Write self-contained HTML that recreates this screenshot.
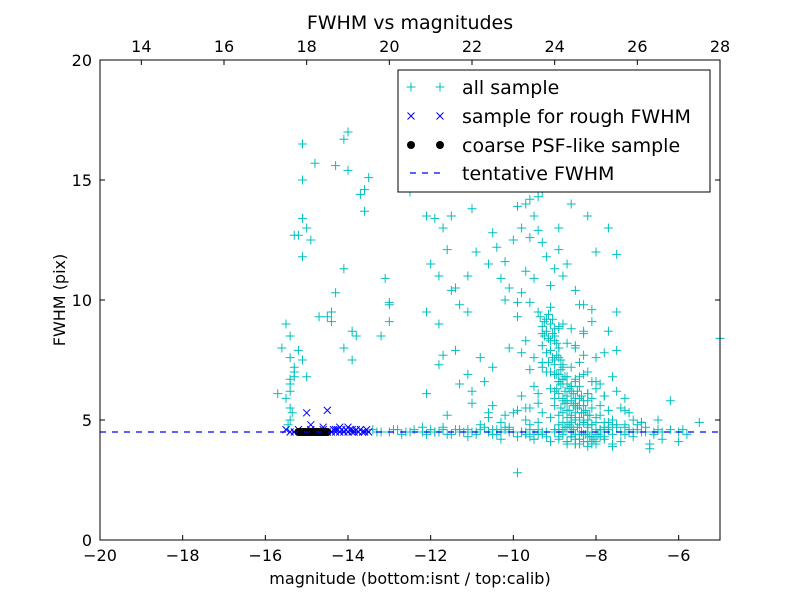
<!DOCTYPE html>
<html><head><meta charset="utf-8"><style>
body{margin:0;background:#fff}
svg{display:block;font-family:"DejaVu Sans","Liberation Sans",sans-serif}
</style></head><body>
<svg id="chart" width="800" height="600" viewBox="0 0 800 600" xmlns="http://www.w3.org/2000/svg">
<rect x="0" y="0" width="800" height="600" fill="#fff"/>
<text x="410" y="29" font-size="19" text-anchor="middle">FWHM vs magnitudes</text>
<text x="410" y="584" font-size="16" text-anchor="middle">magnitude (bottom:isnt / top:calib)</text>
<text x="65" y="300" font-size="16" text-anchor="middle" transform="rotate(-90 65 300)">FWHM (pix)</text>
<g id="marks"></g>
<g id="axes"></g>
<g id="legend">
<rect x="398" y="70" width="312" height="122" fill="#fff" stroke="#000" stroke-width="1"/>
</g>
</svg>
<script>
const xTicks=[-20,-18,-16,-14,-12,-10,-8,-6];
const topTicks=[14,16,18,20,22,24,26,28];
const yTicks=[0,5,10,15,20];
const fwhmLine=4.5;
const allX=[-15.1,-14.8,-15.1,-14.3,-14.1,-14.0,-14.0,-13.5,-13.6,-13.7,-13.6,-15.1,-15.0,-14.9,-15.3,-15.2,-15.1,-14.1,-14.3,-13.1,-13.0,-13.0,-14.4,-14.5,-14.7,-14.4,-13.9,-13.8,-13.0,-13.2,-14.1,-13.9,-15.6,-15.5,-15.4,-15.4,-15.3,-15.3,-15.4,-15.4,-15.5,-15.4,-15.4,-15.7,-15.2,-15.1,-15.3,-15.0,-15.4,-15.35,-15.45,
-12.5,-12.1,-11.9,-11.7,-11.5,-11.6,-11.5,-11.4,-11.8,-12.0,-11.8,-12.1,-11.3,-11.1,-11.1,-11.0,-10.9,-10.5,-10.6,-10.4,-10.2,-10.3,-11.7,-11.8,-12.1,-11.4,-11.3,-11.1,-11.0,-10.8,-10.7,-10.5,-10.5,-11.6,-11.0,-10.6,-9.9,
-9.9,-9.7,-9.6,-9.4,-9.3,-9.5,-9.8,-10.0,-9.6,-9.4,-9.3,-8.9,-8.6,-8.9,-8.2,-7.7,-8.0,-7.5,-8.7,-8.8,-9.2,-9.0,-9.7,-9.5,-10.1,-10.2,-9.8,-9.1,-8.5,-8.4,-8.1,-9.6,-9.4,-9.9,-9.2,-8.8,-8.6,-8.3,-8.9,-9.0,-9.3,-9.7,-10.1,-9.8,-9.5,
-9.1,-8.9,-8.7,-8.5,-8.3,-8.0,-7.8,-9.3,-9.0,-8.8,-8.6,-8.4,-8.2,-9.6,-9.2,-8.9,-8.7,-8.5,-8.3,-8.1,-7.9,-7.6,-9.5,-9.1,-8.9,-8.8,-8.6,-8.4,-8.2,-8.0,-7.8,-7.5,-7.3,-9.8,-9.4,-9.0,-8.8,-8.7,-8.5,-8.4,-8.3,-8.1,-7.9,-7.7,-7.4,-7.2,
-9.9,-9.6,-9.3,-9.0,-8.9,-8.7,-8.6,-8.5,-8.3,-8.2,-8.0,-7.8,-7.6,-7.3,-7.1,-6.9,-10.2,-9.7,-9.4,-9.1,-8.9,-8.8,-8.6,-8.5,-8.4,-8.3,-8.2,-8.1,-7.9,-7.7,-7.5,-7.2,-7.0,-6.8,-6.6,
-9.5,-9.2,-8.9,-8.8,-8.7,-8.6,-8.5,-8.4,-8.3,-8.2,-8.1,-8.0,-7.8,-7.6,-7.4,-7.1,-6.7,-6.4,-9.0,-8.7,-8.5,-8.3,-8.1,-7.9,-7.6,-7.3,-6.9,-6.5,-6.2,-5.9,-5.5,-5.0,-6.7,-6.0,
-9.3,-9.0,-8.8,-8.6,-8.4,-8.2,-8.0,-7.8,-8.9,-8.5,-8.3,-8.1,-7.7,-7.5,-10.4,-10.1,-9.8,-9.6,-10.6,-10.3,-10.0,-9.7,-9.4,
-13.4,-13.2,-13.0,-12.8,-12.6,-12.4,-12.2,-12.0,-11.8,-11.6,-11.4,-11.2,-11.0,-10.8,-10.6,-10.4,-10.2,-10.0,-9.8,-9.6,-9.4,-9.2,-9.0,-8.8,-8.6,-8.4,-8.2,-8.0,-7.8,-7.6,-7.4,-7.2,-7.0,-6.8,-6.6,-6.4,-6.2,-6.0,-5.8,
-13.3,-12.9,-12.5,-12.1,-11.7,-11.3,-10.9,-10.5,-10.1,-9.7,-9.3,-8.9,-8.5,-8.1,-7.7,-7.3,-6.9,-6.5,-12.7,-11.9,-11.1,-10.3,-9.5,-8.7,-7.9,-7.1,-12.2,-9.9,-9.1,-8.3,-7.5,
-9.35,-9.25,-9.15,-9.05,-9.3,-9.2,-9.1,-9.0,-9.25,-9.15,-9.05,-8.95,-9.3,-9.1,-9.0,-8.9,-9.2,-9.05,-8.95,-8.85,-9.15,-9.0,-8.9,-8.8,-9.1,-8.95,-8.85,-8.75,
-9.0,-8.9,-8.8,-8.7,-8.6,-8.5,-8.95,-8.85,-8.75,-8.65,-8.55,-8.45,-8.35,-8.9,-8.8,-8.7,-8.6,-8.5,-8.4,-8.3,-8.2,-8.85,-8.75,-8.65,-8.55,-8.45,-8.35,-8.25,-8.15,-8.8,-8.7,-8.6,-8.5,-8.4,-8.3,-8.2,-8.1,-8.0,-8.75,-8.65,-8.55,-8.45,-8.35,-8.25,-8.15,-8.05,-7.95,-8.7,-8.6,-8.5,-8.4,-8.3,-8.2,-8.1,-8.0,-7.9,-7.8,
-11.9,-11.7,-11.5,-11.3,-11.1,-10.9,-10.7,-10.5,-10.3,-10.1,-9.9,-9.7,-9.5,-9.3,-9.1,-8.9,-8.7,-8.5,-8.3,-8.1,-7.9,-7.7,-7.5,-7.3,-10.8,-10.2,-9.6,-9.0,-8.6,-8.2,-7.8,-9.4,-8.8,-8.4,-8.0,-7.6,-9.8,-9.2,-8.6];
const allY=[16.5,15.7,15.0,15.6,16.7,17.0,15.4,15.1,14.6,14.4,13.7,13.4,13.0,12.5,12.7,12.7,11.8,11.3,10.3,10.9,9.9,9.8,9.5,9.3,9.3,9.1,8.7,8.5,9.1,8.5,8.0,7.5,8.0,9.0,8.5,7.6,7.2,6.8,6.5,6.2,5.9,5.5,5.0,6.1,7.9,7.5,7.0,6.8,6.7,5.3,4.8,
14.5,13.5,13.4,13.0,13.5,12.1,10.4,10.5,11.0,11.5,9.0,9.5,9.8,9.5,11.0,13.8,12.0,12.8,11.5,12.2,11.6,10.9,7.7,7.3,6.1,7.9,6.5,6.9,6.2,7.6,6.6,7.2,5.6,5.2,5.7,5.3,2.8,
13.9,14.0,14.2,14.3,14.5,13.5,13.0,12.5,12.6,12.9,12.4,13.0,14.0,12.1,13.5,13.0,12.0,11.9,11.5,11.0,11.8,11.3,11.2,10.9,10.5,10.0,10.3,10.6,10.4,9.8,9.6,9.9,9.5,9.3,9.2,9.0,8.8,8.7,8.9,8.5,8.6,8.3,8.0,7.8,7.6,
8.3,8.0,8.2,8.1,7.7,7.6,7.8,7.4,7.5,7.3,7.2,7.4,7.0,7.1,7.0,6.9,6.8,6.7,6.9,6.6,6.5,6.8,6.4,6.3,6.6,6.5,6.2,6.4,6.1,6.3,6.0,6.2,5.9,6.0,6.1,5.9,5.8,5.7,5.9,5.6,5.8,5.5,5.6,5.4,5.5,5.3,
5.4,5.5,5.3,5.6,5.2,5.4,5.1,5.3,5.0,5.2,5.1,4.9,5.0,4.8,5.0,4.9,5.2,5.0,4.9,5.1,4.8,4.9,4.7,5.0,4.8,4.9,4.7,4.8,4.6,4.9,4.7,4.6,4.8,4.7,4.5,
4.4,4.3,4.2,4.4,4.1,4.3,4.0,4.2,4.4,4.1,4.3,4.0,4.2,3.9,4.1,4.3,4.0,4.2,6.2,5.8,5.6,5.3,5.9,5.2,4.8,5.4,4.9,5.0,5.8,4.6,4.9,8.4,3.8,4.1,
7.2,6.9,6.7,6.4,6.8,6.1,6.6,6.0,8.8,8.0,8.6,9.1,8.7,7.9,4.6,4.7,4.5,4.3,5.1,4.9,5.3,5.5,5.7,
4.6,4.5,4.5,4.6,4.5,4.6,4.5,4.6,4.5,4.4,4.6,4.5,4.5,4.6,4.5,4.4,4.6,4.5,4.5,4.6,4.4,4.5,4.5,4.6,4.5,4.4,4.5,4.6,4.5,4.4,4.5,4.5,4.6,4.5,4.4,4.5,4.6,4.5,4.4,
4.5,4.6,4.5,4.4,4.6,4.5,4.4,4.6,4.5,4.4,4.5,4.6,4.4,4.5,4.6,4.4,4.5,4.6,4.4,4.5,4.6,4.5,4.2,4.7,4.6,4.5,4.7,
9.9,9.7,9.8,9.5,9.3,9.1,9.4,9.2,8.9,8.7,9.0,8.8,8.5,8.4,8.6,8.2,8.1,7.9,8.3,8.0,7.8,7.6,7.7,7.5,7.4,7.3,7.6,7.2,
7.0,6.9,7.1,6.8,6.9,6.6,6.7,6.5,6.4,6.6,6.3,6.5,6.2,6.3,6.1,6.2,6.0,6.1,5.9,6.0,5.8,5.7,5.9,5.6,5.8,5.5,5.7,5.4,5.6,5.5,5.3,5.4,5.2,5.3,5.1,5.2,5.0,5.1,4.9,5.0,4.8,4.9,4.7,4.8,4.6,4.7,4.5,4.4,4.3,4.2,4.4,4.1,4.3,4.0,4.2,4.1,3.9,4.0,
4.4,4.6,4.3,4.5,4.7,4.4,4.6,4.3,4.5,4.7,4.4,4.2,4.6,4.3,4.5,4.2,4.4,4.1,4.3,4.0,4.2,4.4,4.1,4.3,4.7,4.8,4.7,4.8,4.7,4.8,4.6,4.9,4.8,4.7,4.6,4.5,4.0,4.1,4.0];
const roughX=[-15.5,-15.4,-15.3,-15.2,-15.1,-15.0,-14.9,-14.8,-14.7,-14.6,-14.5,-14.4,-14.35,-14.3,-14.25,-14.2,-14.15,-14.1,-14.05,-14.0,-13.95,-13.9,-13.85,-13.8,-13.75,-13.7,-13.65,-13.6,-13.55,-13.5,-15.0,-14.5,-14.9,-14.2,-14.6,-14.0,-13.9,-14.3];
const roughY=[4.6,4.5,4.5,4.6,4.5,4.5,4.6,4.5,4.5,4.6,4.5,4.5,4.6,4.5,4.6,4.5,4.6,4.5,4.6,4.5,4.6,4.5,4.5,4.6,4.5,4.6,4.5,4.5,4.6,4.5,5.3,5.4,4.8,4.7,4.7,4.7,4.6,4.6];
const psfX=[-15.2,-15.15,-15.1,-15.05,-15.0,-14.95,-14.9,-14.85,-14.8,-14.75,-14.7,-14.65,-14.6,-14.55,-14.5];
const psfY=[4.5,4.5,4.5,4.5,4.5,4.5,4.5,4.5,4.5,4.5,4.5,4.5,4.5,4.5,4.5];

const L=100,R=720,T=60,B=540;
const sx=v=>L+(v+20)/15*(R-L);
const stx=v=>L+(v-13)/15*(R-L);
const sy=v=>B-v/20*(B-T);
const NS="http://www.w3.org/2000/svg";
function mk(tag,attrs,parent){const e=document.createElementNS(NS,tag);for(const k in attrs)e.setAttribute(k,attrs[k]);parent.appendChild(e);return e;}
const marks=document.getElementById('marks'),axes=document.getElementById('axes'),leg=document.getElementById('legend');

function plus(x,y,p,name){const g=mk('g',{},p);


mk('path',{d:`M${x-4.5} ${y}H${x+4.5}M${x} ${y-4.5}V${y+4.5}`,stroke:'#00bfbf','stroke-width':1},g);}
function cross(x,y,p,name){const g=mk('g',{},p);


mk('path',{d:`M${x-3.5} ${y-3.5}L${x+3.5} ${y+3.5}M${x-3.5} ${y+3.5}L${x+3.5} ${y-3.5}`,stroke:'#0000ff','stroke-width':1},g);}
function dot(x,y,p,name){const c=mk('circle',{cx:x,cy:y,r:4,fill:'#000'},p);

}

for(let i=0;i<allX.length;i++)plus(sx(allX[i]),sy(allY[i]),marks,'all-sample-point');
for(let i=0;i<roughX.length;i++)cross(sx(roughX[i]),sy(roughY[i]),marks,'rough-fwhm-point');
for(let i=0;i<psfX.length;i++)dot(sx(psfX[i]),sy(psfY[i]),marks,'psf-like-point');
const fl=mk('line',{x1:L,x2:R,y1:sy(fwhmLine),y2:sy(fwhmLine),stroke:'#0000ff','stroke-width':1.2,'stroke-dasharray':'6 6'},marks);



const fr=mk('rect',{x:L,y:T,width:R-L,height:B-T,fill:'none',stroke:'#000','stroke-width':1},axes);


xTicks.forEach(v=>{const x=sx(v);
mk('path',{d:`M${x} ${B}V${B-5}`,stroke:'#000'},axes);
const t=mk('text',{x:x,y:B+21,'font-size':16,'text-anchor':'middle'},axes);t.textContent=(v<0?'\u2212'+(-v):v);

});
topTicks.forEach(v=>{const x=stx(v);
mk('path',{d:`M${x} ${T}V${T+5}`,stroke:'#000'},axes);
const t=mk('text',{x:x,y:T-8,'font-size':16,'text-anchor':'middle'},axes);t.textContent=v;

});
yTicks.forEach(v=>{const y=sy(v);
mk('path',{d:`M${L} ${y}H${L+5}M${R} ${y}H${R-5}`,stroke:'#000'},axes);
const t=mk('text',{x:L-8,y:y+6,'font-size':16,'text-anchor':'end'},axes);t.textContent=v;

});

const labels=['all sample','sample for rough FWHM','coarse PSF-like sample','tentative FWHM'];
const rows=[87,116,145,173];
labels.forEach((s,i)=>{const y=rows[i];
if(i===0){plus(411,y,leg,'legend-marker-all');plus(440,y,leg,'legend-marker-all');}
if(i===1){cross(411,y,leg,'legend-marker-rough');cross(440,y,leg,'legend-marker-rough');}
if(i===2){dot(411,y,leg,'legend-marker-psf');dot(440,y,leg,'legend-marker-psf');}
if(i===3){const l=mk('line',{x1:410,x2:442,y1:y,y2:y,stroke:'#0000ff','stroke-width':1.2,'stroke-dasharray':'6 6'},leg);

}
const t=mk('text',{x:462,y:y+7,'font-size':19},leg);t.textContent=s;

});
</script>
</body></html>
